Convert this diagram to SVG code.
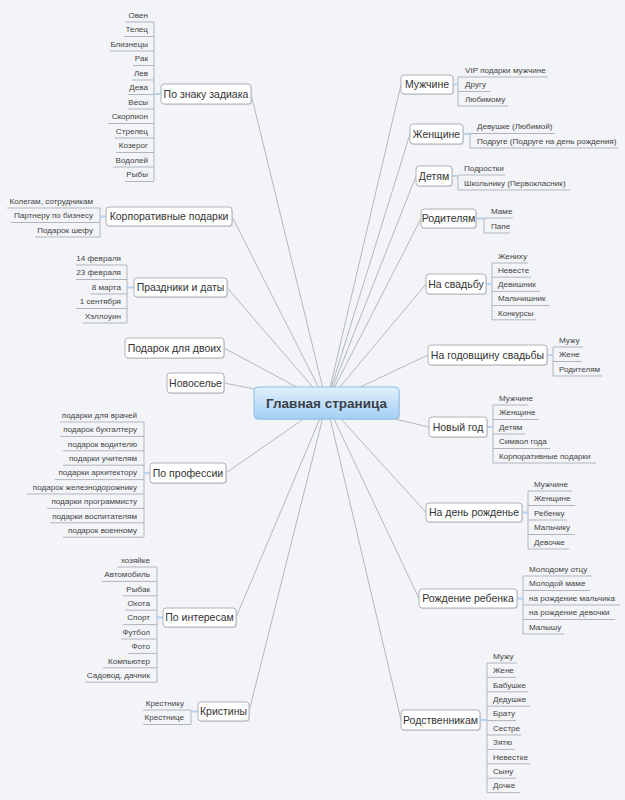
<svg xmlns="http://www.w3.org/2000/svg" width="625" height="800" viewBox="0 0 625 800">
<defs>
<linearGradient id="cg" x1="0" y1="0" x2="0" y2="1">
<stop offset="0" stop-color="#e2f0fc"/>
<stop offset="1" stop-color="#a3cff5"/>
</linearGradient>
<style>
.bg{fill:#f2f4f7}
.c{stroke:#a3a7ad;stroke-width:0.8;fill:none}
.v{stroke:#b1b5bb;stroke-width:1;fill:none}
.b{stroke:#b7d3ef;stroke-width:2;fill:none}
.u{stroke:#b1b5bb;stroke-width:1;fill:none}
.sh{fill:#d9dce0}
.box{fill:#ffffff;stroke:#aeb2b8;stroke-width:1}
.nt{font-family:"Liberation Sans",Arial,sans-serif;font-size:10.5px;fill:#333;text-anchor:middle}
.l{font-family:"Liberation Sans",Arial,sans-serif;font-size:8.1px;fill:#444;text-anchor:end}
.r{font-family:"Liberation Sans",Arial,sans-serif;font-size:8.1px;fill:#444;text-anchor:start}
.ct{font-family:"Liberation Sans",Arial,sans-serif;font-size:13.5px;font-weight:bold;fill:#3b4046;text-anchor:middle}
</style>
</defs>
<rect class="bg" x="0" y="0" width="625" height="800"/>

<g id="connectors">
<g id="main-lines">
<line class="c" x1="326.5" y1="403" x2="251" y2="94"/>
<line class="c" x1="326.5" y1="403" x2="232" y2="216.5"/>
<line class="c" x1="326.5" y1="403" x2="227" y2="287.5"/>
<line class="c" x1="326.5" y1="403" x2="224" y2="348"/>
<line class="c" x1="326.5" y1="403" x2="224" y2="383"/>
<line class="c" x1="326.5" y1="403" x2="226" y2="473"/>
<line class="c" x1="326.5" y1="403" x2="236" y2="617.5"/>
<line class="c" x1="326.5" y1="403" x2="249" y2="711.5"/>
<line class="c" x1="326.5" y1="403" x2="401" y2="84.5"/>
<line class="c" x1="326.5" y1="403" x2="410" y2="134"/>
<line class="c" x1="326.5" y1="403" x2="416" y2="176"/>
<line class="c" x1="326.5" y1="403" x2="421" y2="218.5"/>
<line class="c" x1="326.5" y1="403" x2="426" y2="284"/>
<line class="c" x1="326.5" y1="403" x2="428" y2="355"/>
<line class="c" x1="326.5" y1="403" x2="429" y2="427"/>
<line class="c" x1="326.5" y1="403" x2="426" y2="512.5"/>
<line class="c" x1="326.5" y1="403" x2="419" y2="598.5"/>
<line class="c" x1="326.5" y1="403" x2="401" y2="720"/>
</g>
<g id="branch-lines">
<line class="v" x1="154" y1="22" x2="154" y2="181.5"/><line class="b" x1="154" y1="94" x2="161" y2="94"/>
<line class="v" x1="100" y1="208" x2="100" y2="237"/><line class="b" x1="100" y1="216.5" x2="106" y2="216.5"/>
<line class="v" x1="127" y1="265" x2="127" y2="323"/><line class="b" x1="127" y1="287.5" x2="134" y2="287.5"/>
<line class="v" x1="144" y1="422" x2="144" y2="537.2"/><line class="b" x1="144" y1="473" x2="150" y2="473"/>
<line class="v" x1="157" y1="567" x2="157" y2="682.2"/><line class="b" x1="157" y1="617.5" x2="163" y2="617.5"/>
<line class="v" x1="191" y1="710" x2="191" y2="724.5"/><line class="b" x1="191" y1="711.5" x2="198" y2="711.5"/>
<line class="v" x1="458" y1="77" x2="458" y2="106"/><line class="b" x1="453" y1="84.5" x2="458" y2="84.5"/>
<line class="v" x1="470" y1="133.5" x2="470" y2="148"/><line class="b" x1="463" y1="134" x2="470" y2="134"/>
<line class="v" x1="458" y1="175" x2="458" y2="190"/><line class="b" x1="452" y1="176" x2="458" y2="176"/>
<line class="v" x1="484" y1="218" x2="484" y2="233"/><line class="b" x1="476" y1="218.5" x2="484" y2="218.5"/>
<line class="v" x1="492" y1="263" x2="492" y2="319.8"/><line class="b" x1="486" y1="284" x2="492" y2="284"/>
<line class="v" x1="553" y1="347" x2="553" y2="376"/><line class="b" x1="547" y1="355" x2="553" y2="355"/>
<line class="v" x1="493" y1="405" x2="493" y2="463"/><line class="b" x1="487" y1="427" x2="493" y2="427"/>
<line class="v" x1="528" y1="491" x2="528" y2="549"/><line class="b" x1="522" y1="512.5" x2="528" y2="512.5"/>
<line class="v" x1="523" y1="576" x2="523" y2="634"/><line class="b" x1="517" y1="598.5" x2="523" y2="598.5"/>
<line class="v" x1="487" y1="663" x2="487" y2="792.6"/><line class="b" x1="480" y1="720" x2="487" y2="720"/>
</g>
</g>

<g id="center">
<rect x="255" y="388" width="145" height="32" rx="4" fill="#c9d4de"/>
<rect x="254" y="387" width="145" height="32" rx="4" fill="url(#cg)" stroke="#8fbfe9" stroke-width="1"/>
<text class="ct" x="326.5" y="408">Главная страница</text>
</g>

<g id="n-zodiac"><rect class="sh" x="162" y="85" width="90" height="20" rx="3"/><rect class="box" x="161" y="84" width="90" height="20" rx="3"/><text class="nt" x="206" y="97.8">По знаку задиака</text></g>
<g id="n-zodiac-leaves">
<g id="z1"><line class="u" x1="125" y1="22" x2="154" y2="22"/><text class="l" x="148" y="17.7">Овен</text></g>
<g id="z2"><line class="u" x1="124" y1="36.5" x2="154" y2="36.5"/><text class="l" x="148" y="32.2">Телец</text></g>
<g id="z3"><line class="u" x1="110" y1="51" x2="154" y2="51"/><text class="l" x="148" y="46.7">Близнецы</text></g>
<g id="z4"><line class="u" x1="133" y1="65.5" x2="154" y2="65.5"/><text class="l" x="148" y="61.2">Рак</text></g>
<g id="z5"><line class="u" x1="132" y1="80" x2="154" y2="80"/><text class="l" x="148" y="75.7">Лев</text></g>
<g id="z6"><line class="u" x1="128" y1="94.5" x2="154" y2="94.5"/><text class="l" x="148" y="90.2">Дева</text></g>
<g id="z7"><line class="u" x1="128" y1="109" x2="154" y2="109"/><text class="l" x="148" y="104.7">Весы</text></g>
<g id="z8"><line class="u" x1="108" y1="123.5" x2="154" y2="123.5"/><text class="l" x="148" y="119.2">Скорпион</text></g>
<g id="z9"><line class="u" x1="115" y1="138" x2="154" y2="138"/><text class="l" x="148" y="133.7">Стрелец</text></g>
<g id="z10"><line class="u" x1="116" y1="152.5" x2="154" y2="152.5"/><text class="l" x="148" y="148.2">Козерог</text></g>
<g id="z11"><line class="u" x1="113" y1="167" x2="154" y2="167"/><text class="l" x="148" y="162.7">Водолей</text></g>
<g id="z12"><line class="u" x1="125" y1="181.5" x2="154" y2="181.5"/><text class="l" x="148" y="177.2">Рыбы</text></g>
</g>

<g id="n-corp"><rect class="sh" x="107" y="208" width="126" height="19" rx="3"/><rect class="box" x="106" y="207" width="126" height="19" rx="3"/><text class="nt" x="169" y="220.3">Корпоративные подарки</text></g>
<g id="n-corp-leaves">
<g id="k1"><line class="u" x1="7" y1="208" x2="100" y2="208"/><text class="l" x="93" y="203.7">Колегам, сотрудникам</text></g>
<g id="k2"><line class="u" x1="11" y1="222.5" x2="100" y2="222.5"/><text class="l" x="93" y="218.2">Партнеру по бизнесу</text></g>
<g id="k3"><line class="u" x1="35" y1="237" x2="100" y2="237"/><text class="l" x="93" y="232.7">Подарок шефу</text></g>
</g>

<g id="n-holidays"><rect class="sh" x="135" y="279" width="93" height="19" rx="3"/><rect class="box" x="134" y="278" width="93" height="19" rx="3"/><text class="nt" x="180.5" y="291.3">Праздники и даты</text></g>
<g id="n-holidays-leaves">
<g id="h1"><line class="u" x1="76" y1="265" x2="127" y2="265"/><text class="l" x="121" y="260.7">14 февраля</text></g>
<g id="h2"><line class="u" x1="76" y1="279.5" x2="127" y2="279.5"/><text class="l" x="121" y="275.2">23 февраля</text></g>
<g id="h3"><line class="u" x1="90" y1="294" x2="127" y2="294"/><text class="l" x="121" y="289.7">8 марта</text></g>
<g id="h4"><line class="u" x1="76" y1="308.5" x2="127" y2="308.5"/><text class="l" x="121" y="304.2">1 сентября</text></g>
<g id="h5"><line class="u" x1="83" y1="323" x2="127" y2="323"/><text class="l" x="121" y="318.7">Хэллоуин</text></g>
</g>

<g id="n-two"><rect class="sh" x="126" y="339" width="99" height="20" rx="3"/><rect class="box" x="125" y="338" width="99" height="20" rx="3"/><text class="nt" x="174.5" y="351.8">Подарок для двоих</text></g>
<g id="n-house"><rect class="sh" x="168" y="374" width="57" height="20" rx="3"/><rect class="box" x="167" y="373" width="57" height="20" rx="3"/><text class="nt" x="195.5" y="386.8">Новоселье</text></g>

<g id="n-prof"><rect class="sh" x="151" y="464" width="76" height="20" rx="3"/><rect class="box" x="150" y="463" width="76" height="20" rx="3"/><text class="nt" x="188" y="476.8">По профессии</text></g>
<g id="n-prof-leaves">
<g id="p1"><line class="u" x1="60" y1="422" x2="144" y2="422"/><text class="l" x="137" y="417.7">подарки для врачей</text></g>
<g id="p2"><line class="u" x1="60" y1="436.4" x2="144" y2="436.4"/><text class="l" x="137" y="432.1">подарок бухгалтеру</text></g>
<g id="p3"><line class="u" x1="63" y1="450.8" x2="144" y2="450.8"/><text class="l" x="137" y="446.5">подарок водителю</text></g>
<g id="p4"><line class="u" x1="63" y1="465.2" x2="144" y2="465.2"/><text class="l" x="137" y="460.9">подарки учителям</text></g>
<g id="p5"><line class="u" x1="55" y1="479.6" x2="144" y2="479.6"/><text class="l" x="137" y="475.3">подарки архитектору</text></g>
<g id="p6"><line class="u" x1="27" y1="494" x2="144" y2="494"/><text class="l" x="137" y="489.7">подарок железнодорожнику</text></g>
<g id="p7"><line class="u" x1="47" y1="508.4" x2="144" y2="508.4"/><text class="l" x="137" y="504.1">подарки программисту</text></g>
<g id="p8"><line class="u" x1="50" y1="522.8" x2="144" y2="522.8"/><text class="l" x="137" y="518.5">подарки воспитателям</text></g>
<g id="p9"><line class="u" x1="63" y1="537.2" x2="144" y2="537.2"/><text class="l" x="137" y="532.9">подарок военному</text></g>
</g>

<g id="n-int"><rect class="sh" x="164" y="609" width="73" height="19" rx="3"/><rect class="box" x="163" y="608" width="73" height="19" rx="3"/><text class="nt" x="199.5" y="621.3">По интересам</text></g>
<g id="n-int-leaves">
<g id="i1"><line class="u" x1="117" y1="567" x2="157" y2="567"/><text class="l" x="150" y="562.7">хозяйке</text></g>
<g id="i2"><line class="u" x1="102" y1="581.4" x2="157" y2="581.4"/><text class="l" x="150" y="577.1">Автомобиль</text></g>
<g id="i3"><line class="u" x1="123" y1="595.8" x2="157" y2="595.8"/><text class="l" x="150" y="591.5">Рыбак</text></g>
<g id="i4"><line class="u" x1="125" y1="610.2" x2="157" y2="610.2"/><text class="l" x="150" y="605.9">Охота</text></g>
<g id="i5"><line class="u" x1="123" y1="624.6" x2="157" y2="624.6"/><text class="l" x="150" y="620.3">Спорт</text></g>
<g id="i6"><line class="u" x1="121" y1="639" x2="157" y2="639"/><text class="l" x="150" y="634.7">Футбол</text></g>
<g id="i7"><line class="u" x1="128" y1="653.4" x2="157" y2="653.4"/><text class="l" x="150" y="649.1">Фото</text></g>
<g id="i8"><line class="u" x1="103" y1="667.8" x2="157" y2="667.8"/><text class="l" x="150" y="663.5">Компьютер</text></g>
<g id="i9"><line class="u" x1="85" y1="682.2" x2="157" y2="682.2"/><text class="l" x="150" y="677.9">Садовод, дачник</text></g>
</g>

<g id="n-krist"><rect class="sh" x="199" y="703" width="51" height="19" rx="3"/><rect class="box" x="198" y="702" width="51" height="19" rx="3"/><text class="nt" x="223.5" y="715.3">Кристины</text></g>
<g id="n-krist-leaves">
<g id="kr1"><line class="u" x1="143" y1="710" x2="191" y2="710"/><text class="l" x="184" y="705.7">Крестнику</text></g>
<g id="kr2"><line class="u" x1="143" y1="724.5" x2="191" y2="724.5"/><text class="l" x="184" y="720.2">Крестнице</text></g>
</g>

<g id="n-men"><rect class="sh" x="402" y="76" width="52" height="19" rx="3"/><rect class="box" x="401" y="75" width="52" height="19" rx="3"/><text class="nt" x="427" y="88.3">Мужчине</text></g>
<g id="n-men-leaves">
<g id="m1"><line class="u" x1="458" y1="77" x2="548" y2="77"/><text class="r" x="465" y="72.7">VIP подарки мужчине</text></g>
<g id="m2"><line class="u" x1="458" y1="91.5" x2="490" y2="91.5"/><text class="r" x="465" y="87.2">Другу</text></g>
<g id="m3"><line class="u" x1="458" y1="106" x2="508" y2="106"/><text class="r" x="465" y="101.7">Любимому</text></g>
</g>

<g id="n-women"><rect class="sh" x="411" y="125" width="53" height="20" rx="3"/><rect class="box" x="410" y="124" width="53" height="20" rx="3"/><text class="nt" x="436.5" y="137.8">Женщине</text></g>
<g id="n-women-leaves">
<g id="w1"><line class="u" x1="470" y1="133.5" x2="555" y2="133.5"/><text class="r" x="477" y="129.2">Девушке (Любимой)</text></g>
<g id="w2"><line class="u" x1="470" y1="148" x2="618" y2="148"/><text class="r" x="477" y="143.7">Подруге (Подруге на день рождения)</text></g>
</g>

<g id="n-kids"><rect class="sh" x="417" y="167" width="36" height="20" rx="3"/><rect class="box" x="416" y="166" width="36" height="20" rx="3"/><text class="nt" x="434" y="179.8">Детям</text></g>
<g id="n-kids-leaves">
<g id="d1"><line class="u" x1="458" y1="175" x2="505" y2="175"/><text class="r" x="464" y="170.7">Подростки</text></g>
<g id="d2"><line class="u" x1="458" y1="190" x2="570" y2="190"/><text class="r" x="464" y="185.7">Школьнику (Первокласник)</text></g>
</g>

<g id="n-parents"><rect class="sh" x="422" y="210" width="55" height="19" rx="3"/><rect class="box" x="421" y="209" width="55" height="19" rx="3"/><text class="nt" x="448.5" y="222.3">Родителям</text></g>
<g id="n-parents-leaves">
<g id="pa1"><line class="u" x1="484" y1="218" x2="513" y2="218"/><text class="r" x="491" y="213.7">Маме</text></g>
<g id="pa2"><line class="u" x1="484" y1="233" x2="510" y2="233"/><text class="r" x="491" y="228.7">Папе</text></g>
</g>

<g id="n-wedding"><rect class="sh" x="427" y="275" width="60" height="20" rx="3"/><rect class="box" x="426" y="274" width="60" height="20" rx="3"/><text class="nt" x="456" y="287.8">На свадьбу</text></g>
<g id="n-wedding-leaves">
<g id="s1"><line class="u" x1="492" y1="263" x2="528" y2="263"/><text class="r" x="498" y="258.7">Жениху</text></g>
<g id="s2"><line class="u" x1="492" y1="277.2" x2="531" y2="277.2"/><text class="r" x="498" y="272.9">Невесте</text></g>
<g id="s3"><line class="u" x1="492" y1="291.4" x2="540" y2="291.4"/><text class="r" x="498" y="287.1">Девишник</text></g>
<g id="s4"><line class="u" x1="492" y1="305.6" x2="550" y2="305.6"/><text class="r" x="498" y="301.3">Мальчишник</text></g>
<g id="s5"><line class="u" x1="492" y1="319.8" x2="536" y2="319.8"/><text class="r" x="498" y="315.5">Конкурсы</text></g>
</g>

<g id="n-anniv"><rect class="sh" x="429" y="346" width="119" height="20" rx="3"/><rect class="box" x="428" y="345" width="119" height="20" rx="3"/><text class="nt" x="487.5" y="358.8">На годовщину свадьбы</text></g>
<g id="n-anniv-leaves">
<g id="a1"><line class="u" x1="553" y1="347" x2="583" y2="347"/><text class="r" x="559" y="342.7">Мужу</text></g>
<g id="a2"><line class="u" x1="553" y1="361.5" x2="582" y2="361.5"/><text class="r" x="559" y="357.2">Жене</text></g>
<g id="a3"><line class="u" x1="553" y1="376" x2="602" y2="376"/><text class="r" x="559" y="371.7">Родителям</text></g>
</g>

<g id="n-newyear"><rect class="sh" x="430" y="418" width="58" height="20" rx="3"/><rect class="box" x="429" y="417" width="58" height="20" rx="3"/><text class="nt" x="458" y="430.8">Новый год</text></g>
<g id="n-newyear-leaves">
<g id="ny1"><line class="u" x1="493" y1="405" x2="528" y2="405"/><text class="r" x="499" y="400.7">Мужчине</text></g>
<g id="ny2"><line class="u" x1="493" y1="419.5" x2="539" y2="419.5"/><text class="r" x="499" y="415.2">Женщине</text></g>
<g id="ny3"><line class="u" x1="493" y1="434" x2="525" y2="434"/><text class="r" x="499" y="429.7">Детям</text></g>
<g id="ny4"><line class="u" x1="493" y1="448.5" x2="550" y2="448.5"/><text class="r" x="499" y="444.2">Символ года</text></g>
<g id="ny5"><line class="u" x1="493" y1="463" x2="596" y2="463"/><text class="r" x="499" y="458.7">Корпоративные подарки</text></g>
</g>

<g id="n-bday"><rect class="sh" x="427" y="504" width="96" height="19" rx="3"/><rect class="box" x="426" y="503" width="96" height="19" rx="3"/><text class="nt" x="474" y="516.3">На день рожденье</text></g>
<g id="n-bday-leaves">
<g id="b1"><line class="u" x1="528" y1="491" x2="572" y2="491"/><text class="r" x="534" y="486.7">Мужчине</text></g>
<g id="b2"><line class="u" x1="528" y1="505.5" x2="575" y2="505.5"/><text class="r" x="534" y="501.2">Женщине</text></g>
<g id="b3"><line class="u" x1="528" y1="520" x2="567" y2="520"/><text class="r" x="534" y="515.7">Ребенку</text></g>
<g id="b4"><line class="u" x1="528" y1="534.5" x2="575" y2="534.5"/><text class="r" x="534" y="530.2">Мальчику</text></g>
<g id="b5"><line class="u" x1="528" y1="549" x2="569" y2="549"/><text class="r" x="534" y="544.7">Девочке</text></g>
</g>

<g id="n-birth"><rect class="sh" x="420" y="590" width="98" height="19" rx="3"/><rect class="box" x="419" y="589" width="98" height="19" rx="3"/><text class="nt" x="468" y="602.3">Рождение ребенка</text></g>
<g id="n-birth-leaves">
<g id="r1"><line class="u" x1="523" y1="576" x2="592" y2="576"/><text class="r" x="529" y="571.7">Молодому отцу</text></g>
<g id="r2"><line class="u" x1="523" y1="590.5" x2="590" y2="590.5"/><text class="r" x="529" y="586.2">Молодой маме</text></g>
<g id="r3"><line class="u" x1="523" y1="605" x2="620" y2="605"/><text class="r" x="529" y="600.7">на рождение мальчика</text></g>
<g id="r4"><line class="u" x1="523" y1="619.5" x2="615" y2="619.5"/><text class="r" x="529" y="615.2">на рождение девочки</text></g>
<g id="r5"><line class="u" x1="523" y1="634" x2="564" y2="634"/><text class="r" x="529" y="629.7">Малышу</text></g>
</g>

<g id="n-rel"><rect class="sh" x="402" y="711" width="79" height="20" rx="3"/><rect class="box" x="401" y="710" width="79" height="20" rx="3"/><text class="nt" x="440.5" y="723.8">Родственникам</text></g>
<g id="n-rel-leaves">
<g id="rl1"><line class="u" x1="487" y1="663" x2="517" y2="663"/><text class="r" x="493" y="658.7">Мужу</text></g>
<g id="rl2"><line class="u" x1="487" y1="677.4" x2="516" y2="677.4"/><text class="r" x="493" y="673.1">Жене</text></g>
<g id="rl3"><line class="u" x1="487" y1="691.8" x2="528" y2="691.8"/><text class="r" x="493" y="687.5">Бабушке</text></g>
<g id="rl4"><line class="u" x1="487" y1="706.2" x2="530" y2="706.2"/><text class="r" x="493" y="701.9">Дедушке</text></g>
<g id="rl5"><line class="u" x1="487" y1="720.6" x2="516" y2="720.6"/><text class="r" x="493" y="716.3">Брату</text></g>
<g id="rl6"><line class="u" x1="487" y1="735" x2="521" y2="735"/><text class="r" x="493" y="730.7">Сестре</text></g>
<g id="rl7"><line class="u" x1="487" y1="749.4" x2="515" y2="749.4"/><text class="r" x="493" y="745.1">Зятю</text></g>
<g id="rl8"><line class="u" x1="487" y1="763.8" x2="530" y2="763.8"/><text class="r" x="493" y="759.5">Невестке</text></g>
<g id="rl9"><line class="u" x1="487" y1="778.2" x2="516" y2="778.2"/><text class="r" x="493" y="773.9">Сыну</text></g>
<g id="rl10"><line class="u" x1="487" y1="792.6" x2="520" y2="792.6"/><text class="r" x="493" y="788.3">Дочке</text></g>
</g>
</svg>
